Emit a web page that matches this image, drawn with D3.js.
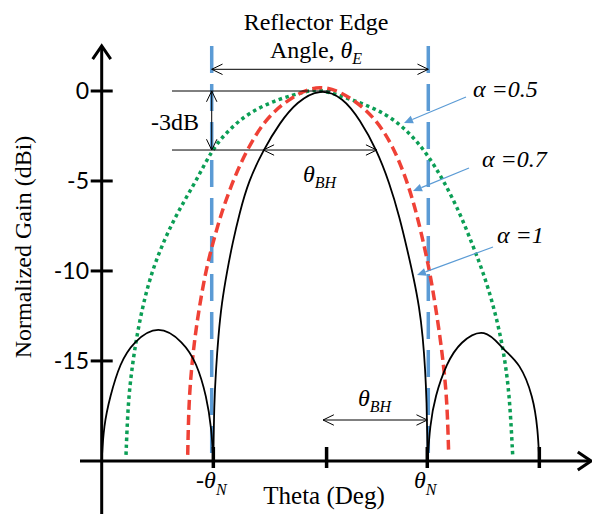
<!DOCTYPE html>
<html>
<head>
<meta charset="utf-8">
<script src="https://cdn.jsdelivr.net/npm/d3@7"></script>
<style>
  body { margin: 0; background: #fff; }
  svg { display: block; }
  .serif { font-family: "Liberation Serif", "Times New Roman", serif; fill: #000; }
</style>
</head>
<body>
<div id="chart"></div>
<script>
const W = 592, H = 514;

// y ticks (dB) and x tick positions (deg)
const gainTicks = [0, -5, -10, -15];
const thetaTicks = [-11.18, 0, 9.94, 21.0];
const nullLabels = [{ v: -11.18, sign: "-" }, { v: 9.94, sign: "" }];
const edgeAngles = [-11.34, 10.04]; // blue dashed reflector edge lines

// alpha = 1 : main lobe and two side lobes (theta deg, gain dB)
const mainLobe = [[-11.18,-20.56],[-11.1,-17.35],[-10.92,-15.5],[-10.69,-13.65],[-10.36,-11.79],
  [-9.8,-9.94],[-9.3,-8.5],[-8.6,-6.79],[-7.7,-5.0],[-6.25,-3.28],[-4.6,-1.75],[-2.95,-0.6],
  [-0.65,0.15],[1.6,-0.35],[3.3,-1.6],[4.95,-3.28],[6.2,-5.1],[7.2,-7.0],[8.0,-8.9],
  [8.6,-10.4],[9.15,-12.0],[9.5,-13.65],[9.74,-15.5],[9.88,-17.35],[9.94,-19.2],[9.97,-20.56]];
const sideLobeLeft = [[-22.2,-20.56],[-22.0,-18.6],[-21.38,-16.98],[-20.39,-15.11],[-19.08,-13.93],
  [-16.61,-12.95],[-14.15,-13.93],[-12.82,-15.11],[-11.84,-16.98],[-11.35,-18.8],[-11.18,-20.56]];
const sideLobeRight = [[9.97,-20.56],[10.2,-18.6],[10.7,-16.98],[11.86,-15.11],[13.17,-13.93],
  [15.64,-13.1],[17.44,-14.39],[19.09,-15.11],[20.4,-16.98],[20.85,-18.8],[21.0,-20.56]];

// alpha = 0.7
const alpha07 = [[-13.71,-20.22],[-13.6,-17.35],[-13.35,-15.5],[-13.0,-13.65],[-12.5,-11.79],
  [-11.9,-9.94],[-11.25,-8.5],[-10.4,-6.79],[-9.21,-4.94],[-7.89,-3.28],[-6.1,-1.61],
  [-3.94,-0.5],[-0.65,0.5],[2.64,-0.41],[4.95,-1.61],[6.58,-3.09],[7.91,-4.94],[8.89,-6.79],
  [9.65,-8.65],[10.2,-10.1],[10.7,-11.79],[11.2,-13.65],[11.6,-15.5],[11.9,-17.35],[12.05,-20.13]];

// alpha = 0.5
const alpha05 = [[-19.8,-20.22],[-19.6,-17.35],[-19.24,-15.5],[-18.75,-13.65],[-18.09,-11.79],
  [-17.2,-9.94],[-15.9,-8.1],[-14.47,-6.5],[-12.82,-4.94],[-11.34,-3.28],[-9.7,-2.17],
  [-7.56,-1.15],[-4.6,-0.41],[-1.96,-0.02],[-0.65,0.12],[2.64,-0.5],[5.93,-1.24],[8.23,-2.35],
  [9.88,-3.46],[11.52,-4.94],[13.17,-6.79],[14.48,-8.65],[15.47,-10.1],[16.4,-11.79],
  [17.2,-13.65],[17.75,-15.5],[18.1,-17.35],[18.37,-20.22]];

const x = d3.scaleLinear().domain([-22.2, 26.2]).range([101.7, 592]);
const y = d3.scaleLinear().domain([-20.56, 0]).range([461, 91]);

const svg = d3.select("#chart").append("svg")
    .attr("width", W)
    .attr("height", H);

const line = d3.line()
    .x(d => x(d[0]))
    .y(d => y(d[1]))
    .curve(d3.curveBasis);

// open chevron arrowhead, dir = angle the arrow points to (radians)
function chevron(g, px, py, dir, len, spread, width, color) {
  const a1 = dir + Math.PI - spread, a2 = dir + Math.PI + spread;
  g.append("path")
    .attr("d", "M" + (px + len * Math.cos(a1)) + "," + (py + len * Math.sin(a1)) +
      "L" + px + "," + py +
      "L" + (px + len * Math.cos(a2)) + "," + (py + len * Math.sin(a2)))
    .attr("fill", "none")
    .attr("stroke", color)
    .attr("stroke-width", width);
}

// ---- blue edge lines (behind curves)
svg.selectAll(".edge")
  .data(edgeAngles)
  .enter().append("line")
    .attr("x1", d => x(d)).attr("x2", d => x(d))
    .attr("y1", 46).attr("y2", y(-20.3))
    .attr("stroke", "#5b9bd5")
    .attr("stroke-width", 3.5)
    .attr("stroke-dasharray", "27,11");

// ---- curves
svg.append("path").datum(alpha05)
    .attr("d", line).attr("fill", "none")
    .attr("stroke", "#0b9e55").attr("stroke-width", 3.5)
    .attr("stroke-dasharray", "3.5,3.5");

svg.append("path").datum(alpha07)
    .attr("d", line).attr("fill", "none")
    .attr("stroke", "#ef4136").attr("stroke-width", 3.5)
    .attr("stroke-dasharray", "10,5");

[sideLobeLeft, mainLobe, sideLobeRight].forEach(function(lobe) {
  svg.append("path").datum(lobe)
    .attr("d", line).attr("fill", "none")
    .attr("stroke", "#000").attr("stroke-width", 1.8);
});

// ---- axes
const axisY = 461, axisX = x(-22.2);
svg.append("line")
    .attr("x1", axisX).attr("x2", axisX).attr("y1", 47).attr("y2", H)
    .attr("stroke", "#000").attr("stroke-width", 3);
chevron(svg, axisX, 46, -Math.PI / 2, 16, 0.6, 3, "#000");

svg.append("line")
    .attr("x1", 80).attr("x2", 591).attr("y1", axisY).attr("y2", axisY)
    .attr("stroke", "#000").attr("stroke-width", 3);
chevron(svg, 591, axisY, 0, 16, 0.6, 3, "#000");

svg.selectAll(".ytick")
  .data(gainTicks)
  .enter().append("line")
    .attr("x1", axisX - 11).attr("x2", axisX + 11)
    .attr("y1", d => y(d)).attr("y2", d => y(d))
    .attr("stroke", "#000").attr("stroke-width", 3);

svg.selectAll(".ylab")
  .data(gainTicks)
  .enter().append("text")
    .attr("x", 89)
    .attr("y", d => y(d) + 8)
    .attr("text-anchor", "end")
    .style("font-family", "Lato, 'Open Sans', sans-serif")
    .style("font-size", "23px")
    .text(d => d);

svg.selectAll(".xtick")
  .data(thetaTicks)
  .enter().append("line")
    .attr("x1", d => x(d)).attr("x2", d => x(d))
    .attr("y1", axisY - 14).attr("y2", axisY + 7)
    .attr("stroke", "#000").attr("stroke-width", 3.5);

const nl = svg.selectAll(".nlab")
  .data(nullLabels)
  .enter().append("text")
    .attr("class", "serif")
    .attr("x", d => x(d.v) - 2)
    .attr("y", 488)
    .attr("text-anchor", "middle")
    .style("font-size", "24px");
nl.append("tspan").text(d => d.sign + "θ").style("font-style", "italic");
nl.append("tspan").text("N").attr("dy", 7).style("font-size", "16px").style("font-style", "italic");

svg.append("text").attr("class", "serif")
    .attr("x", 324).attr("y", 504)
    .attr("text-anchor", "middle")
    .style("font-size", "25px")
    .text("Theta (Deg)");

svg.append("text").attr("class", "serif")
    .attr("transform", "translate(31,247) rotate(-90)")
    .attr("text-anchor", "middle")
    .style("font-size", "24px")
    .text("Normalized Gain (dBi)");

// ---- annotations
const ann = svg.append("g");

ann.append("text").attr("class", "serif")
    .attr("x", 316).attr("y", 30).attr("text-anchor", "middle")
    .style("font-size", "24px").text("Reflector Edge");
const angleTxt = ann.append("text").attr("class", "serif")
    .attr("x", 316).attr("y", 58).attr("text-anchor", "middle")
    .style("font-size", "24px");
angleTxt.append("tspan").text("Angle, ");
angleTxt.append("tspan").text("θ").style("font-style", "italic");
angleTxt.append("tspan").text("E").attr("dy", 6).style("font-size", "16px").style("font-style", "italic");

// reflector edge double arrow
const edgeY = 69.3;
ann.append("line")
    .attr("x1", x(edgeAngles[0])).attr("x2", x(edgeAngles[1]))
    .attr("y1", edgeY).attr("y2", edgeY)
    .attr("stroke", "#000").attr("stroke-width", 1);
chevron(ann, x(edgeAngles[0]), edgeY, Math.PI, 12, 0.45, 1, "#000");
chevron(ann, x(edgeAngles[1]), edgeY, 0, 12, 0.45, 1, "#000");

// -3 dB lines
const halfPower = -3.28;
ann.append("line")
    .attr("x1", 172).attr("x2", x(0.4))
    .attr("y1", y(0)).attr("y2", y(0))
    .attr("stroke", "#000").attr("stroke-width", 1);
ann.append("line")
    .attr("x1", 172).attr("x2", x(4.95))
    .attr("y1", y(halfPower)).attr("y2", y(halfPower))
    .attr("stroke", "#000").attr("stroke-width", 1);
chevron(ann, x(-6.25), y(halfPower), Math.PI, 12, 0.45, 1, "#000");
chevron(ann, x(4.95), y(halfPower), 0, 12, 0.45, 1, "#000");

ann.append("line")
    .attr("x1", x(edgeAngles[0])).attr("x2", x(edgeAngles[0]))
    .attr("y1", y(0)).attr("y2", y(halfPower))
    .attr("stroke", "#000").attr("stroke-width", 1);
chevron(ann, x(edgeAngles[0]), y(0), -Math.PI / 2, 12, 0.45, 1, "#000");
chevron(ann, x(edgeAngles[0]), y(halfPower), Math.PI / 2, 12, 0.45, 1, "#000");

ann.append("text").attr("class", "serif")
    .attr("x", 175).attr("y", 130).attr("text-anchor", "middle")
    .style("font-size", "24px").text("-3dB");

function thetaBH(px, py) {
  const t = ann.append("text").attr("class", "serif")
      .attr("x", px).attr("y", py)
      .style("font-size", "24px");
  t.append("tspan").text("θ").style("font-style", "italic");
  t.append("tspan").text("BH").attr("dy", 6).style("font-size", "16px").style("font-style", "italic");
}
thetaBH(303, 182);
thetaBH(358, 406);

// lower theta_BH double arrow
const bhY = 420;
ann.append("line")
    .attr("x1", x(-0.35)).attr("x2", x(9.94))
    .attr("y1", bhY).attr("y2", bhY)
    .attr("stroke", "#000").attr("stroke-width", 1);
chevron(ann, x(-0.35), bhY, Math.PI, 12, 0.45, 1, "#000");
chevron(ann, x(9.94), bhY, 0, 12, 0.45, 1, "#000");

// alpha labels with blue pointers
const alphaLabels = [
  { text: "α =0.5", tx: 473, ty: 97, from: [466, 97], to: [404, 123] },
  { text: "α =0.7", tx: 482, ty: 167, from: [469, 168], to: [413, 191] },
  { text: "α =1", tx: 497, ty: 243, from: [493, 247], to: [417, 275] }
];
alphaLabels.forEach(function(a) {
  ann.append("text").attr("class", "serif")
    .attr("x", a.tx).attr("y", a.ty)
    .style("font-size", "24px").style("font-style", "italic")
    .text(a.text);
  const ang = Math.atan2(a.to[1] - a.from[1], a.to[0] - a.from[0]);
  const back = 9;
  ann.append("line")
    .attr("x1", a.from[0]).attr("y1", a.from[1])
    .attr("x2", a.to[0] - back * Math.cos(ang)).attr("y2", a.to[1] - back * Math.sin(ang))
    .attr("stroke", "#5b9bd5").attr("stroke-width", 1.2);
  const p1 = [a.to[0] - back * Math.cos(ang) + 4 * Math.cos(ang + Math.PI / 2),
              a.to[1] - back * Math.sin(ang) + 4 * Math.sin(ang + Math.PI / 2)];
  const p2 = [a.to[0] - back * Math.cos(ang) - 4 * Math.cos(ang + Math.PI / 2),
              a.to[1] - back * Math.sin(ang) - 4 * Math.sin(ang + Math.PI / 2)];
  ann.append("path")
    .attr("d", "M" + a.to + "L" + p1 + "L" + p2 + "Z")
    .attr("fill", "#5b9bd5");
});
</script>
</body>
</html>
